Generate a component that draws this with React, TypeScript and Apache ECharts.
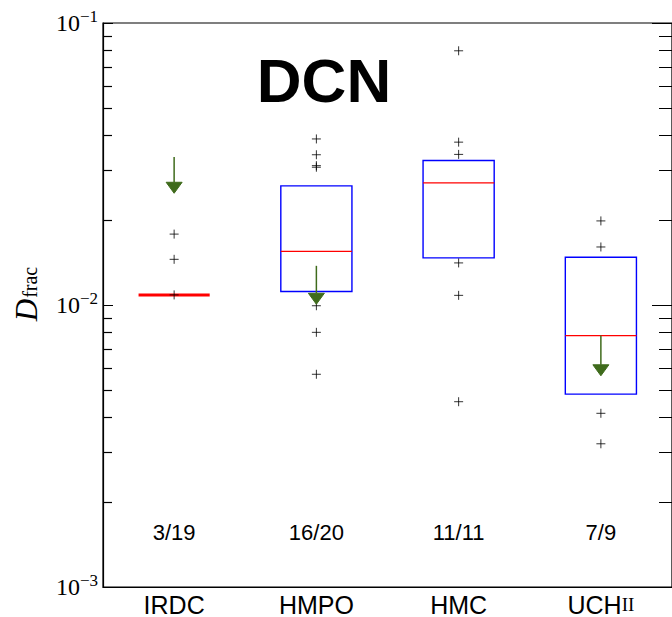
import React, { useEffect, useRef } from 'react';
import * as echarts from 'echarts';

const categories = ['IRDC', 'HMPO', 'HMC', 'UCHII'];
const countLabels = ['3/19', '16/20', '11/11', '7/9'];

// box statistics per category
const boxQ1 = [0.01086, 0.01116, 0.01469, 0.00483];
const boxMedian = [0.01086, 0.0155, 0.0271, 0.00779];
const boxQ3 = [0.01086, 0.02646, 0.03255, 0.01477];

// individual sources (plus markers)
const pointsIRDC = [0.01784, 0.01452, 0.01086];
const pointsHMPO = [0.0388, 0.0341, 0.0312, 0.0308, 0.00994, 0.008, 0.00568];
const pointsHMC = [0.0797, 0.0378, 0.0342, 0.0141, 0.01082, 0.00454];
const pointsUCHII = [0.01987, 0.01606, 0.00413, 0.00322];

// upper-limit arrows: [category index, start value, tip value]
const arrowCats = [0, 1, 3];
const arrowStart = [0.0335, 0.01377, 0.00779];
const arrowTip = [0.0249, 0.01006, 0.00561];

const yMin = 0.001;
const yMax = 0.1;
const minorTickValues = [
  0.002, 0.003, 0.004, 0.005, 0.006, 0.007, 0.008, 0.009,
  0.02, 0.03, 0.04, 0.05, 0.06, 0.07, 0.08, 0.09,
];

const SANS = '"Liberation Sans", Arial, Helvetica, sans-serif';
const SERIF = '"Liberation Serif", "Times New Roman", serif';

export default function App() {
  const ref = useRef<HTMLDivElement>(null);

  useEffect(() => {
    const chart = echarts.init(ref.current as HTMLDivElement, null, { renderer: 'svg' });
    const n = categories.length;

    const pointData: number[][] = [];
    [pointsIRDC, pointsHMPO, pointsHMC, pointsUCHII].forEach((arr, i) =>
      arr.forEach((v) => pointData.push([i, v]))
    );
    const boxData = categories.map((_, i) => [i, boxQ1[i], boxMedian[i], boxQ3[i]]);
    const arrowData = arrowCats.map((c, k) => [c, arrowStart[k], arrowTip[k]]);
    const minorData = minorTickValues.map((v) => [0, v]);
    const countData = countLabels.map((_, i) => [i, yMin]);

    const tickLabel = (v: number) => {
      const e = Math.round(Math.log10(v));
      return `{b|10}{s|\u2212${-e}}`;
    };

    const option: any = {
      animation: false,
      backgroundColor: '#ffffff',
      grid: {
        left: 103,
        top: 23,
        width: 572,
        height: 569,
        show: true,
        borderColor: '#000',
        borderWidth: 1.2,
        backgroundColor: 'transparent',
      },
      xAxis: {
        type: 'category',
        data: categories,
        boundaryGap: true,
        axisLine: { lineStyle: { color: '#000', width: 1.2 } },
        axisTick: { inside: true, alignWithLabel: true, length: 7, lineStyle: { color: '#000' } },
        splitLine: { show: false },
        axisLabel: {
          interval: 0,
          margin: 5,
          color: '#000',
          fontFamily: SANS,
          fontSize: 25,
          formatter: (v: string) => (v === 'UCHII' ? '{a|UCH}{r|II}' : `{a|${v}}`),
          rich: {
            a: { fontFamily: SANS, fontSize: 25, color: '#000' },
            r: { fontFamily: SERIF, fontSize: 19, color: '#000' },
          },
        },
      },
      yAxis: [
        {
          type: 'log',
          logBase: 10,
          min: yMin,
          max: yMax,
          position: 'left',
          axisLine: { show: true, lineStyle: { color: '#000', width: 1.2 } },
          axisTick: { show: true, inside: true, length: 10, lineStyle: { color: '#000' } },
          splitLine: { show: false },
          axisLabel: {
            margin: 5,
            color: '#000',
            formatter: tickLabel,
            rich: {
              b: { fontFamily: SERIF, fontSize: 24, color: '#000' },
              s: { fontFamily: SERIF, fontSize: 17, color: '#000', padding: [0, 0, 13, 0] },
            },
          },
        },
        {
          type: 'log',
          logBase: 10,
          min: yMin,
          max: yMax,
          position: 'right',
          axisLine: { show: true, lineStyle: { color: '#000', width: 1.2 } },
          axisTick: { show: true, inside: true, length: 20, lineStyle: { color: '#000' } },
          splitLine: { show: false },
          axisLabel: { show: false },
        },
      ],
      graphic: [
        {
          type: 'text',
          x: 324,
          y: 80,
          style: {
            text: 'DCN',
            font: `bold 62px ${SANS}`,
            fill: '#000',
            align: 'center',
            verticalAlign: 'middle',
            textAlign: 'center',
            textVerticalAlign: 'middle',
          },
        },
        {
          type: 'text',
          x: 30,
          y: 294,
          rotation: Math.PI / 2,
          style: {
            text: '{d|D}{f|frac}',
            align: 'center',
            verticalAlign: 'middle',
            textAlign: 'center',
            textVerticalAlign: 'middle',
            rich: {
              d: { fontFamily: SERIF, fontStyle: 'italic', fontSize: 31, fill: '#000', color: '#000', padding: [0, 1, 7, 0] },
              f: { fontFamily: SERIF, fontSize: 20, fill: '#000', color: '#000' },
            },
          },
        },
      ],
      series: [
        {
          type: 'custom',
          name: 'minorTicks',
          data: minorData,
          encode: { x: 0, y: 1 },
          silent: true,
          clip: false,
          z: 100,
          renderItem: (params: any, api: any) => {
            const p = api.coord([0, api.value(1)]);
            const band = params.coordSys.width / n;
            const xl = p[0] - band / 2;
            const xr = xl + params.coordSys.width;
            const y = Math.round(p[1]) + 0.5;
            return {
              type: 'group',
              children: [
                { type: 'line', shape: { x1: xl, y1: y, x2: xl + 9, y2: y }, style: { stroke: '#000', lineWidth: 1.2 } },
                { type: 'line', shape: { x1: xr - 13, y1: y, x2: xr, y2: y }, style: { stroke: '#000', lineWidth: 1 } },
              ],
            };
          },
        },
        {
          type: 'custom',
          name: 'boxes',
          data: boxData,
          encode: { x: 0, y: [1, 2, 3] },
          renderItem: (params: any, api: any) => {
            const i = api.value(0);
            const bw = (params.coordSys.width / n) * 0.5;
            const pQ1 = api.coord([i, api.value(1)]);
            const pM = api.coord([i, api.value(2)]);
            const pQ3 = api.coord([i, api.value(3)]);
            const x0 = pM[0] - bw / 2;
            const degenerate = Math.abs(pQ1[1] - pQ3[1]) < 0.5;
            const children: any[] = [];
            if (!degenerate) {
              children.push({
                type: 'rect',
                shape: { x: x0, y: pQ3[1], width: bw, height: pQ1[1] - pQ3[1] },
                style: { fill: 'none', stroke: '#0000ff', lineWidth: 1.4 },
              });
            }
            children.push({
              type: 'line',
              shape: { x1: x0, y1: pM[1], x2: x0 + bw, y2: pM[1] },
              style: { stroke: '#ff0000', lineWidth: degenerate ? 3 : 1.2 },
            });
            return { type: 'group', children };
          },
        },
        {
          type: 'scatter',
          name: 'sources',
          data: pointData,
          symbol: 'path://M0,5L10,5M5,0L5,10',
          symbolSize: 9,
          itemStyle: { color: 'transparent', borderColor: '#000', borderWidth: 1 },
          z: 3,
        },
        {
          type: 'custom',
          name: 'arrows',
          data: arrowData,
          encode: { x: 0, y: [1, 2] },
          z: 4,
          renderItem: (params: any, api: any) => {
            const i = api.value(0);
            const ps = api.coord([i, api.value(1)]);
            const pt = api.coord([i, api.value(2)]);
            const h = 11;
            const w = 8;
            const col = '#3f6b1c';
            return {
              type: 'group',
              children: [
                { type: 'line', shape: { x1: ps[0], y1: ps[1], x2: pt[0], y2: pt[1] - h }, style: { stroke: col, lineWidth: 1.5 } },
                {
                  type: 'polygon',
                  shape: { points: [[pt[0] - w, pt[1] - h], [pt[0] + w, pt[1] - h], [pt[0], pt[1]]] },
                  style: { fill: col, stroke: col, lineWidth: 1 },
                },
              ],
            };
          },
        },
        {
          type: 'custom',
          name: 'counts',
          data: countData,
          encode: { x: 0, y: 1 },
          renderItem: (params: any, api: any) => {
            const i = api.value(0);
            const p = api.coord([i, api.value(1)]);
            return {
              type: 'text',
              x: p[0],
              y: p[1] - 55,
              style: {
                text: countLabels[params.dataIndex],
                font: `22px ${SANS}`,
                fill: '#000',
                align: 'center',
                verticalAlign: 'middle',
                textAlign: 'center',
                textVerticalAlign: 'middle',
              },
            };
          },
        },
      ],
    };

    chart.setOption(option);
    return () => chart.dispose();
  }, []);

  return (
    <div
      ref={ref}
      style={{ position: 'fixed', left: 0, top: 0, width: 672, height: 617, background: '#fff' }}
    />
  );
}
